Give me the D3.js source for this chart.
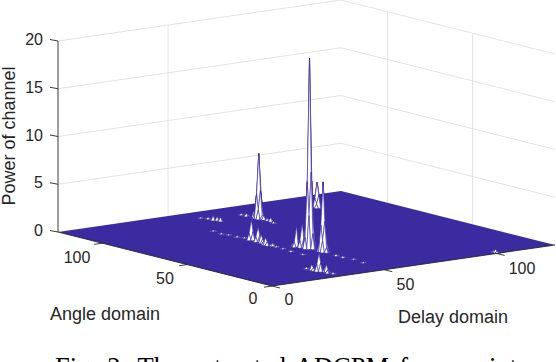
<!DOCTYPE html>
<html>
<head>
<meta charset="utf-8">
<script src="https://cdn.jsdelivr.net/npm/d3@7"></script>
<style>
html, body { margin: 0; padding: 0; background: #fff; overflow: hidden; }
text { font-family: "Liberation Sans", Arial, sans-serif; fill: #262626; }
</style>
</head>
<body>
<script>
const width = 556
const height = 362

const zTicks = [0, 5, 10, 15, 20]
const angleTicks = [0, 50, 100]
const delayTicks = [0, 50, 100]
const wallAngleLines = [48.5, 98.5]
const wallDelayLines = [49]
const gridSize = 126

// sparse channel cells, [angle, delay, power], everything else is ~0
const mainPeak = [[48,53,19.9],[47,53,8],[49,53,8],[48,52,7],[48,54,7],[47,52,3.5],[49,54,3.5],[49,52,2.5],[47,54,2.5],[46,53,1.6],[50,53,1.6],[48,51,1.2],[48,55,1.2]]
const peakD = [[40,53,7.3],[39,53,3.2],[41,53,3.2],[40,52,2.8],[40,54,2.8],[39,52,1.2],[41,54,1.2],[41,52,.8],[39,54,.8],[38,53,.5],[42,53,.5]]
const peakA = [[103,72,6.8],[102,72,3],[104,72,3],[103,71,2.6],[103,73,2.6],[102,71,1],[104,73,1],[104,71,.7],[102,73,.7],[101,72,.4],[105,72,.5]]
const peakC = [[107,101,2.6],[106,101,1.3],[108,101,1.3],[107,100,1],[107,102,1],[106,100,.4],[108,102,.4]]
const peakG = [[51,52,2.5],[50,52,1],[52,52,1.2],[51,51,.7],[53,51,2.2],[54,51,.8],[53,50,.5],[55,51,.3]]
const clusterF = [[73,46,2.1],[72,46,.9],[74,46,.9],[73,45,.7],[73,47,.7],[69,46,1.5],[68,46,.7],[70,46,.7],[69,45,.5],[69,47,.5],[66,45,.9],[65,45,.5],[62,44,.8],[61,44,.4],[63,44,.4],[59,45,.3]]
const clusterE = [[12,30,1.9],[11,30,.9],[13,30,.9],[12,29,.7],[12,31,.7],[15,29,.6],[14,29,.3],[9,31,.8],[8,31,.3],[10,31,.3],[5,31,.15],[18,29,.2],[7,30,.3]]
const clusterBack = [[106,72,.6],[100,72,.45],[98,72,.25],[109,71,.3],[112,71,.15],[96,72,.4],[93,71,.15],[110,57,.5],[109,58,.4],[113,57,.2],[107,58,.45],[116,56,.12]]
const ridge45 = [[94,45,.1],[88,44,.12],[85,45,.1],[80,45,.15],[77,46,.12],[60,45,.15],[57,45,.12],[53,45,.1],[47,44,.15],[40,44,.1]]
const ridge53 = [[58,54,.15],[56,53,.12],[55,54,.1],[31,52,.18],[27,52,.15],[22,53,.08],[15,52,.1]]
const farRight = [[2,101,.3],[3,101,.15],[1,101,.15]]

const allCells = [].concat(mainPeak, peakD, peakA, peakC, peakG, clusterF, clusterE, clusterBack, ridge45, ridge53, farRight)

const blue = "#3b2aa0"

// oblique view of the box, front corner is angle 0 / delay 0
const xDelay = d3.scaleLinear().domain([0, gridSize]).range([272, 555])
const yDelay = d3.scaleLinear().domain([0, gridSize]).range([286, 245])
const xAngle = d3.scaleLinear().domain([0, gridSize]).range([0, -214])
const yAngle = d3.scaleLinear().domain([0, gridSize]).range([0, -54])
const zScale = d3.scaleLinear().domain([0, 20]).range([0, -191])

const xAngleLabel = d3.scaleLinear().domain([0, 100]).range([253, 77])
const yAngleLabel = d3.scaleLinear().domain([0, 100]).range([304, 263])
const xDelayLabel = d3.scaleLinear().domain([0, 100]).range([289, 522])
const yDelayLabel = d3.scaleLinear().domain([0, 100]).range([305, 274])

function project(a, d, z) {
  return [xDelay(d) + xAngle(a), yDelay(d) + yAngle(a) + zScale(z)]
}

const line = d3.line()

const svg = d3.select("body").append("svg")
  .attr("width", width)
  .attr("height", height)
  .style("display", "block")

// back walls
const grid = svg.append("g").attr("fill", "none").attr("stroke", "#dcdcdc").attr("stroke-width", 0.8)

grid.selectAll(".zline").data(zTicks.slice(1)).enter().append("path")
  .attr("class", "zline")
  .attr("d", z => line([project(gridSize, 0, z), project(gridSize, gridSize, z), project(0, gridSize, z)]))

grid.selectAll(".aline").data(wallAngleLines).enter().append("path")
  .attr("class", "aline")
  .attr("d", a => line([project(a, gridSize, 0), project(a, gridSize, 20)]))

grid.selectAll(".dline").data(wallDelayLines).enter().append("path")
  .attr("class", "dline")
  .attr("d", d => line([project(gridSize, d, 0), project(gridSize, d, 20)]))

// flat part of the surface
svg.append("path")
  .attr("d", line([project(0, 0, 0), project(0, gridSize, 0), project(gridSize, gridSize, 0), project(gridSize, 0, 0)]) + "Z")
  .attr("fill", blue)

// non flat part, as mesh faces painted back to front
const power = new Map(allCells.map(c => [c[0] + "," + c[1], c[2]]))
const zAt = (a, d) => power.get(a + "," + d) || 0

const faceKeys = new Set()
allCells.forEach(c => {
  for (const da of [-1, 0]) for (const dd of [-1, 0]) faceKeys.add((c[0] + da) + "," + (c[1] + dd))
})
const faces = Array.from(faceKeys, k => k.split(",").map(Number))
  .sort((p, q) => (q[0] + q[1]) - (p[0] + p[1]))

svg.append("g").selectAll("path").data(faces).enter().append("path")
  .attr("d", f => {
    const a = f[0], d = f[1]
    return line([
      project(a, d, zAt(a, d)),
      project(a + 1, d, zAt(a + 1, d)),
      project(a + 1, d + 1, zAt(a + 1, d + 1)),
      project(a, d + 1, zAt(a, d + 1))
    ]) + "Z"
  })
  .attr("fill", "#fff")
  .attr("stroke", blue)
  .attr("stroke-width", 0.6)
  .attr("stroke-linejoin", "round")

// axes
const axes = svg.append("g").attr("fill", "none").attr("stroke", "#262626").attr("stroke-width", 0.9)
axes.append("path").attr("d", line([project(gridSize, 0, 0), project(gridSize, 0, 20)]))
axes.append("path").attr("d", line([project(gridSize, 0, 0), project(0, 0, 0), project(0, gridSize, 0)]))

axes.selectAll(".ztick").data(zTicks).enter().append("path")
  .attr("class", "ztick")
  .attr("d", z => {
    const p = project(gridSize, 0, z)
    return line([p, [p[0] - 8, p[1] - 1.5]])
  })
axes.selectAll(".atick").data(angleTicks).enter().append("path")
  .attr("class", "atick")
  .attr("d", a => {
    const p = project(a, 0, 0)
    return line([p, [p[0] - 8, p[1] + 1.2]])
  })
axes.selectAll(".dtick").data(delayTicks).enter().append("path")
  .attr("class", "dtick")
  .attr("d", d => {
    const p = project(0, d, 0)
    return line([p, [p[0] + 8, p[1] + 2]])
  })

// labels
svg.selectAll(".zlabel").data(zTicks).enter().append("text")
  .attr("class", "zlabel")
  .attr("x", 43)
  .attr("y", z => project(gridSize, 0, z)[1] + 4)
  .attr("text-anchor", "end")
  .attr("font-size", 16)
  .text(z => z)

svg.selectAll(".alabel").data(angleTicks).enter().append("text")
  .attr("class", "alabel")
  .attr("x", a => xAngleLabel(a))
  .attr("y", a => yAngleLabel(a))
  .attr("text-anchor", "middle")
  .attr("font-size", 16)
  .text(a => a)

svg.selectAll(".dlabel").data(delayTicks).enter().append("text")
  .attr("class", "dlabel")
  .attr("x", d => xDelayLabel(d))
  .attr("y", d => yDelayLabel(d))
  .attr("text-anchor", "middle")
  .attr("font-size", 16)
  .text(d => d)

svg.append("text").attr("x", 50).attr("y", 320).attr("font-size", 18).text("Angle domain")
svg.append("text").attr("x", 398).attr("y", 323).attr("font-size", 18).text("Delay domain")
svg.append("text")
  .attr("transform", "translate(15,136) rotate(-90)")
  .attr("text-anchor", "middle")
  .attr("font-size", 18)
  .text("Power of channel")

// caption, cut by the bottom of the picture in the source too
svg.append("text")
  .attr("x", 55)
  .attr("y", 376)
  .attr("font-size", 26.5)
  .style("font-family", "'Liberation Serif', serif")
  .style("fill", "#000")
  .style("word-spacing", "3.6px")
  .text("Fig. 2: The extracted ADCPM for a point")
</script>
</body>
</html>
